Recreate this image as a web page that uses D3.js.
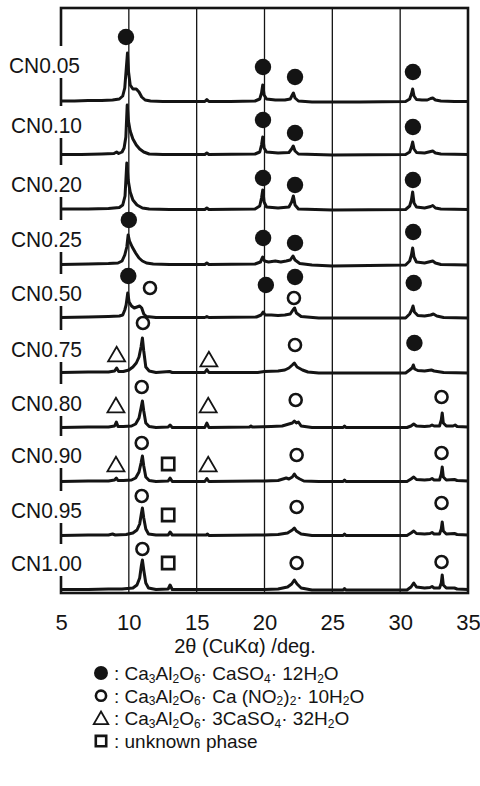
<!DOCTYPE html>
<html lang="ja">
<head>
<meta charset="UTF-8">
<title>XRD patterns CN0.05 - CN1.00</title>
<script src="https://d3js.org/d3.v7.min.js"></script>
<style>
  body { margin: 0; background: #fff; }
  svg { display: block; }
  text { font-family: "Liberation Sans", Arial, sans-serif; fill: #141414; }
</style>
</head>
<body>
<svg width="480" height="786"></svg>
<script>
// sample names, top to bottom
const samples = ["CN0.05", "CN0.10", "CN0.20", "CN0.25", "CN0.50", "CN0.75", "CN0.80", "CN0.90", "CN0.95", "CN1.00"];
// vertical offset of each pattern (arbitrary intensity units)
const offsets = [491, 438, 383, 328, 275, 220, 165, 111, 57, 3];
const xTicks = [5, 10, 15, 20, 25, 30, 35];

// patterns: [2theta, intensity above own baseline]
const cn005 = [[5,1],[6,1],[7,1.5],[8,1.5],[8.8,2],[9.3,3],[9.55,6],[9.7,14],[9.82,35],[9.9,49],[9.98,30],[10.1,17],[10.3,13],[10.55,13],[10.75,10],[10.95,5],[11.2,2],[11.6,1],[12.5,0.5],[14,0.5],[15.6,0.5],[15.75,2.5],[15.9,0.5],[17.5,0.5],[19.3,1],[19.65,3],[19.78,9],[19.87,17],[19.97,7],[20.15,3],[20.8,2],[21.5,2],[21.9,3],[22.05,7],[22.13,9],[22.25,4],[22.5,1],[23.5,0],[27,0],[30.4,0.5],[30.7,3],[30.83,8],[30.92,13],[31.02,6],[31.2,2.5],[31.6,2],[32,2],[32.25,3.5],[32.4,4],[32.6,2],[33,1],[34,0.5],[35,0.5]];
const cn010 = [[5,0.5],[6.5,0.5],[8,1],[8.9,1.5],[9.1,3],[9.25,1.5],[9.5,3],[9.65,7],[9.78,18],[9.88,50],[9.97,34],[10.1,24],[10.3,16],[10.55,10],[10.8,6],[11.1,3],[11.5,1],[12.5,0.5],[15.6,0.5],[15.75,2],[15.9,0.5],[19.3,1],[19.65,3],[19.78,10],[19.87,18],[19.97,7],[20.15,3],[21,2],[21.8,2.5],[22,6],[22.12,9],[22.25,4],[22.5,1],[25,0],[30.4,0.5],[30.7,3],[30.83,8],[30.92,13],[31.02,6],[31.2,2.5],[31.8,2],[32.25,3.5],[32.4,4],[32.6,2],[33,1],[35,0.5]];
const cn020 = [[5,1],[7,1],[8.5,1.5],[9.3,2.5],[9.55,5],[9.72,14],[9.85,47],[9.95,30],[10.1,18],[10.3,10],[10.6,5],[11,2],[11.5,1],[13,0.5],[15.6,0.5],[15.75,2],[15.9,0.5],[19.3,1],[19.65,4],[19.78,12],[19.87,20],[19.97,8],[20.15,3],[21,2],[21.8,3],[22,8],[22.13,14],[22.25,5],[22.5,1],[25,0],[30.4,0.5],[30.7,4],[30.83,10],[30.92,18],[31.02,7],[31.2,3],[31.8,2],[32.25,3.5],[32.4,4.5],[32.6,2],[33,1],[35,0.5]];
const cn025 = [[5,0.5],[7,1],[8.5,1.5],[9.2,2],[9.5,4],[9.7,10],[9.85,18],[9.95,30],[10.05,24],[10.25,18],[10.5,12],[10.75,7],[11,4],[11.3,2],[11.8,1],[13,0.5],[15.6,0.5],[15.75,2],[15.9,0.5],[19.3,1],[19.7,3],[19.87,8],[20,4],[20.3,3],[20.8,4],[21.2,3],[21.6,4],[21.9,5],[22.1,9],[22.25,5],[22.6,1.5],[23.5,0],[25,-1],[30.4,0],[30.7,4],[30.83,10],[30.92,17],[31.02,8],[31.2,3],[31.8,2],[32.25,3.5],[32.4,4],[32.6,2],[33,0.5],[35,0]];
const cn050 = [[5,0.5],[7,1],[8.5,1.5],[9.3,2],[9.55,3],[9.7,8],[9.8,13],[9.92,25],[10.02,16],[10.2,12],[10.4,10],[10.6,11],[10.8,12],[10.95,10],[11.1,4],[11.3,1.5],[12,0.5],[15.6,0.5],[15.75,1.5],[15.9,0.5],[19.4,1],[19.75,3],[19.9,6],[20.05,3],[20.5,3],[21,2.5],[21.5,3],[21.9,4],[22.1,8],[22.22,10],[22.35,5],[22.7,1.5],[24,0],[30.4,0],[30.7,4],[30.85,8],[30.95,12],[31.05,6],[31.3,2.5],[31.8,2],[32.25,3],[32.45,4],[32.7,2],[33.2,0.5],[35,0]];
const cn075 = [[5,0.5],[7,1],[8.5,1],[8.95,2],[9.1,5],[9.25,1.5],[9.6,1.5],[10,3],[10.3,6],[10.55,10],[10.75,16],[10.9,26],[11,35],[11.1,22],[11.25,6],[11.5,2],[12,0.5],[13,1.5],[13.2,0.5],[15.6,0.5],[15.75,3.5],[15.9,0.5],[19.5,0.5],[20,1.5],[21,2],[21.5,3],[21.8,5],[22.05,8],[22.2,10],[22.4,6],[22.8,3],[23.2,1],[24,0],[30.4,0],[30.7,3],[30.88,5],[30.97,8],[31.07,4],[31.3,2.5],[31.8,2],[32.3,3],[32.5,2],[33.2,0.5],[35,0]];
const cn080 = [[5,0.5],[7,1],[8.5,1],[8.95,2],[9.08,6],[9.2,1.5],[9.6,1.5],[10.2,2],[10.5,4],[10.75,10],[10.9,20],[11,27],[11.1,17],[11.25,5],[11.5,1.5],[12,0.5],[12.9,1],[13.04,3],[13.2,0.5],[15.6,0.5],[15.75,5],[15.9,0.5],[18.9,1],[19,2],[19.1,1],[20.5,1.5],[21.3,2],[21.8,4],[22.05,5],[22.2,7],[22.35,5],[22.5,6],[22.7,2],[23.5,0.5],[25.8,0.5],[25.9,2],[26,0.5],[28,0.5],[30.5,0.5],[30.8,2],[31,4],[31.2,2],[31.8,1.5],[32.2,2],[32.35,3],[32.5,2],[32.9,2],[33.03,8],[33.1,15],[33.18,5],[33.4,2],[33.9,2],[34.05,3],[34.2,1.5],[35,1]];
const cn090 = [[5,0.5],[7,1],[8.5,1],[8.95,2],[9.08,4],[9.2,1.5],[9.6,1.5],[10.2,2],[10.5,4],[10.75,10],[10.9,19],[11,26],[11.1,16],[11.25,5],[11.5,1.5],[12,0.5],[12.9,1],[13.04,4],[13.2,0.5],[15.6,0.5],[15.75,3.5],[15.9,0.5],[20,1],[21,1.5],[21.6,4],[21.8,3],[22.05,5],[22.2,8],[22.35,5],[22.6,3],[22.9,1],[24,0.5],[25.8,0.5],[25.9,2],[26,0.5],[28,0.5],[30.5,0.5],[30.8,3],[31,5],[31.2,2.5],[31.8,2],[32.2,2.5],[32.35,3.5],[32.5,2],[32.9,2],[33.03,8],[33.1,15],[33.18,5],[33.4,2],[34,2.5],[34.2,1.5],[35,1]];
const cn095 = [[5,0.5],[7,1],[8.5,1],[8.8,2],[9,1],[9.8,1.5],[10.3,3],[10.6,6],[10.8,12],[10.92,22],[11,28],[11.1,18],[11.25,7],[11.45,2],[12,1],[12.9,1],[13.04,4],[13.2,1],[15.7,1],[15.8,2],[15.9,0.5],[20,1],[21,1.5],[21.7,3],[22.05,6],[22.2,8],[22.35,5],[22.7,2],[23.5,0.5],[25.8,0.5],[25.9,2],[26,0.5],[28,0.5],[30.5,0.5],[30.8,3],[31,5],[31.2,2.5],[31.8,2],[32.2,2.5],[32.35,3.5],[32.5,2],[32.9,2],[33.03,7],[33.1,14],[33.18,5],[33.4,2],[34,2.5],[34.2,1.5],[35,1]];
const cn100 = [[5,0.5],[7,0.5],[8.5,1],[9.5,1],[10.3,2],[10.6,5],[10.8,12],[10.92,24],[11,30],[11.1,20],[11.25,7],[11.45,2],[12,0.5],[12.9,1],[13.04,5],[13.2,0.5],[15,0.5],[17,0.5],[20,0.5],[21,1],[21.7,3],[22,6],[22.2,10],[22.4,6],[22.7,2],[23.5,0],[25.8,0],[25.9,1.5],[26,0],[28,0],[30.5,0],[30.8,3],[31,7],[31.2,3],[31.8,2],[32.2,2.5],[32.35,3.5],[32.5,2],[32.9,2],[33.03,7],[33.1,15],[33.18,5],[33.4,2],[34,2],[34.2,1],[35,0.5]];
const patterns = [cn005, cn010, cn020, cn025, cn050, cn075, cn080, cn090, cn095, cn100];

// phase markers: [sample index, 2theta, height above that pattern's baseline]
const afmMarks = [[0,9.79,65],[0,19.89,35],[0,22.25,25],[0,30.94,30],
  [1,19.89,35],[1,22.25,22],[1,30.94,28],
  [2,19.89,32],[2,22.25,25],[2,30.94,30],
  [3,10.0,45],[3,19.9,27],[3,22.25,22],[3,30.96,33],
  [4,9.96,42],[4,20.1,33],[4,22.25,41],[4,31.0,35],
  [5,31.05,30]];
const nitMarks = [[4,11.56,30],[4,22.17,20],
  [5,11.04,50],[5,22.25,28],
  [6,10.95,41],[6,22.3,28],[6,33.05,31],
  [7,10.95,39],[7,22.37,27],[7,33.05,29],
  [8,10.95,40],[8,22.37,29],[8,33.05,33],
  [9,11.0,41],[9,22.37,27],[9,33.05,28]];
const ettMarks = [[5,9.1,18],[5,15.9,13],[6,9.05,22],[6,15.85,22],[7,9.05,17],[7,15.85,17]];
const unkMarks = [[7,12.9,18],[8,12.9,21],[9,12.9,27]];

// legend rows: symbol, then text parts (second entry "sub" = subscript)
const legendItems = [
  { sym: "afm", parts: [[": Ca"],["3","sub"],["Al"],["2","sub"],["O"],["6","sub"],["· CaSO"],["4","sub"],["· 12H"],["2","sub"],["O"]] },
  { sym: "nit", parts: [[": Ca"],["3","sub"],["Al"],["2","sub"],["O"],["6","sub"],["· Ca (NO"],["2","sub"],[")"],["2","sub"],["· 10H"],["2","sub"],["O"]] },
  { sym: "ett", parts: [[": Ca"],["3","sub"],["Al"],["2","sub"],["O"],["6","sub"],["· 3CaSO"],["4","sub"],["· 32H"],["2","sub"],["O"]] },
  { sym: "unk", parts: [[": unknown  phase"]] }
];

const svg = d3.select("svg");
const x = d3.scaleLinear().domain([5, 35]).range([61, 468]);
const y = d3.scaleLinear().domain([0, 585]).range([593, 8]);
const ink = "#141414";

// grid lines
svg.append("g").selectAll("line")
  .data(xTicks.slice(1, -1))
  .join("line")
  .attr("x1", d => x(d)).attr("x2", d => x(d))
  .attr("y1", y(585)).attr("y2", y(0))
  .attr("stroke", ink).attr("stroke-width", 1.3);

// frame
svg.append("rect")
  .attr("x", x(5)).attr("y", y(585))
  .attr("width", x(35) - x(5)).attr("height", y(0) - y(585))
  .attr("fill", "none").attr("stroke", ink).attr("stroke-width", 2.6);

// sample labels with white boxes (cover left frame line)
const labelLift = [29, 22, 18, 18, 17, 16, 17, 19, 18, 19];
const labels = svg.append("g");
samples.forEach((s, i) => {
  const by = y(offsets[i]) - labelLift[i];
  const right = i === 0 ? 80 : 82;
  labels.append("rect")
    .attr("x", right - 74).attr("y", by - 27)
    .attr("width", 74).attr("height", 32)
    .attr("fill", "#fff");
  labels.append("text")
    .attr("x", right).attr("y", by)
    .attr("text-anchor", "end")
    .attr("font-size", 22)
    .attr("textLength", 71).attr("lengthAdjust", "spacingAndGlyphs")
    .text(s);
});

// patterns
const line = d3.line().x(d => x(d[0]));
svg.append("g").selectAll("path")
  .data(patterns)
  .join("path")
  .attr("d", (p, i) => line.y(d => y(offsets[i] + d[1]))(p))
  .attr("fill", "none")
  .attr("stroke", ink)
  .attr("stroke-width", 3)
  .attr("stroke-linejoin", "round");

// markers
function drawSymbol(g, type, cx, cy, scale) {
  const k = scale || 1;
  if (type === "afm") {
    g.append("circle").attr("cx", cx).attr("cy", cy).attr("r", 8.2 * k).attr("fill", ink);
  } else if (type === "nit") {
    g.append("circle").attr("cx", cx).attr("cy", cy).attr("r", 6 * k)
      .attr("fill", "#fff").attr("stroke", ink).attr("stroke-width", 2.6);
  } else if (type === "ett") {
    g.append("path").attr("transform", `translate(${cx},${cy + 1.5})`)
      .attr("d", d3.symbol(d3.symbolTriangle, 125 * k * k)())
      .attr("fill", "#fff").attr("stroke", ink).attr("stroke-width", 1.8);
  } else {
    g.append("path").attr("transform", `translate(${cx},${cy})`)
      .attr("d", d3.symbol(d3.symbolSquare, 150 * k * k)())
      .attr("fill", "#fff").attr("stroke", ink).attr("stroke-width", 2.6);
  }
}
const marks = svg.append("g");
[["afm", afmMarks], ["nit", nitMarks], ["ett", ettMarks], ["unk", unkMarks]].forEach(([t, arr]) => {
  arr.forEach(m => drawSymbol(marks, t, x(m[1]), y(offsets[m[0]] + m[2])));
});

// x axis labels
const axis = svg.append("g")
  .attr("transform", `translate(0,${y(0)})`)
  .call(d3.axisBottom(x).tickValues(xTicks).tickSize(0).tickPadding(21).tickFormat(d3.format("d")));
axis.select(".domain").remove();
axis.selectAll("text")
  .attr("font-size", 22)
  .attr("font-family", "Liberation Sans, Arial, sans-serif")
  .attr("fill", ink);

// x axis title
svg.append("text")
  .attr("x", 245).attr("y", 653)
  .attr("text-anchor", "middle")
  .attr("font-size", 20)
  .text("2θ (CuKα) /deg.");

// legend
const legend = svg.append("g");
legendItems.forEach((item, i) => {
  const cy = 673 + i * 22.7;
  drawSymbol(legend, item.sym, 101, cy, 0.85);
  const t = legend.append("text")
    .attr("x", 114).attr("y", cy + 7)
    .attr("font-size", 19);
  let down = false;
  item.parts.forEach(p => {
    const sub = p[1] === "sub";
    const ts = t.append("tspan").text(p[0]);
    if (sub) { ts.attr("font-size", 12).attr("dy", 2.5); down = true; }
    else if (down) { ts.attr("dy", -2.5); down = false; }
  });
});
</script>
</body>
</html>
